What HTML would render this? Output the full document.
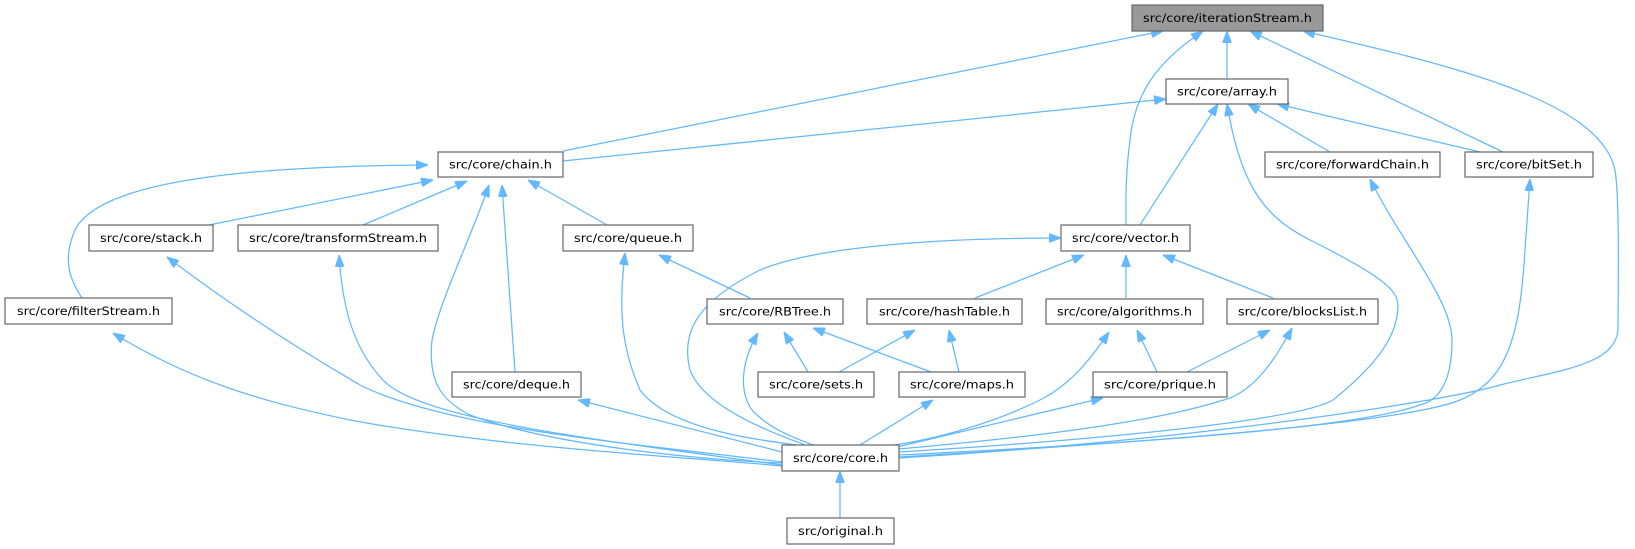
<!DOCTYPE html>
<html><head><meta charset="utf-8"><style>
html,body{margin:0;padding:0;background:#fff;}
svg{display:block;}
text{font-family:"DejaVu Sans","Liberation Sans",sans-serif;font-size:11.5px;fill:#000;}
.n{fill:#fff;stroke:#666;stroke-width:1.2;}
.e{fill:none;stroke:#63b8ff;stroke-width:1.25;marker-start:url(#ah);}
</style></head><body>
<svg width="1635" height="549" viewBox="0 0 1635 549" xmlns="http://www.w3.org/2000/svg">
<defs>
<marker id="ah" viewBox="0 0 12 9" refX="12" refY="4.5" markerWidth="12" markerHeight="9" markerUnits="userSpaceOnUse" orient="auto-start-reverse">
<path d="M0,0 L12,4.5 L0,9 z" fill="#63b8ff" stroke="#63b8ff"/>
</marker>
</defs>
<path class="e" d="M1163,31 L563,151"/>
<path class="e" d="M1203,31 C1160,60 1135,90 1130,140 C1125,180 1126,200 1126,225"/>
<path class="e" d="M1227,31 L1227,79"/>
<path class="e" d="M1250,31 L1503,152"/>
<path class="e" d="M1303,31 C1450,65 1600,100 1615,170 C1620,200 1618,300 1618,330 C1615,365 1560,370 1500,385 C1450,400 1200,440 899,458"/>
<path class="e" d="M1166,99 L563,161"/>
<path class="e" d="M1218,104 L1140,225"/>
<path class="e" d="M1227,104 C1240,180 1260,215 1310,240 C1380,275 1398,290 1398,305 C1398,340 1370,370 1333,400 C1300,420 1100,440 899,452"/>
<path class="e" d="M1248,104 L1330,152"/>
<path class="e" d="M1277,104 L1480,152"/>
<path class="e" d="M1370,179 C1400,240 1452,300 1452,340 C1452,380 1440,400 1420,405 C1350,430 1100,445 899,455"/>
<path class="e" d="M1530,179 L1525,250 C1520,330 1510,380 1460,400 C1400,425 1100,445 899,457"/>
<path class="e" d="M433,180 L209,225"/>
<path class="e" d="M467,181 L363,225"/>
<path class="e" d="M489,185 C470,240 440,300 432,340 C428,380 440,400 470,415 C550,445 700,460 782,463"/>
<path class="e" d="M502,185 L515,372"/>
<path class="e" d="M528,180 L607,225"/>
<path class="e" d="M428,165 C250,166 100,180 75,230 C62,260 70,280 82,298"/>
<path class="e" d="M113,333 C200,387 280,405 350,420 C500,448 700,458 782,466"/>
<path class="e" d="M167,257 C233,307 300,350 360,385 C450,430 650,445 782,462"/>
<path class="e" d="M339,255 C342,300 350,345 383,380 C420,420 600,440 782,465"/>
<path class="e" d="M578,400 L782,452"/>
<path class="e" d="M625,253 C620,300 618,340 640,390 C670,430 760,440 797,445"/>
<path class="e" d="M659,255 L750,298"/>
<path class="e" d="M1061,238 C950,238 820,245 760,270 C700,300 680,330 690,370 C705,410 780,435 805,445"/>
<path class="e" d="M1084,255 L975,298"/>
<path class="e" d="M1126,255 L1126,298"/>
<path class="e" d="M1163,255 L1273,298"/>
<path class="e" d="M758,333 C742,360 738,390 752,410 C770,430 800,440 813,445"/>
<path class="e" d="M784,332 L808,372"/>
<path class="e" d="M813,328 L931,372"/>
<path class="e" d="M915,330 L839,372"/>
<path class="e" d="M949,330 L959,372"/>
<path class="e" d="M1109,332 C1090,360 1070,385 1040,400 C990,425 930,440 894,445"/>
<path class="e" d="M1137,330 L1157,372"/>
<path class="e" d="M1270,330 L1187,372"/>
<path class="e" d="M1292,328 C1270,370 1250,390 1230,398 C1150,425 1000,440 899,449"/>
<path class="e" d="M933,400 L860,445"/>
<path class="e" d="M1103,398 L897,447"/>
<path class="e" d="M840,471 L840,518"/>

<rect x="1132" y="5" width="191" height="26" fill="#999" stroke="#666" stroke-width="1.2"/>
<text x="1227.5" y="22" text-anchor="middle" textLength="169" lengthAdjust="spacingAndGlyphs">src/core/iterationStream.h</text>
<rect class="n" x="1166" y="79" width="122" height="25"/>
<text x="1227" y="95.5" text-anchor="middle" textLength="100" lengthAdjust="spacingAndGlyphs">src/core/array.h</text>
<rect class="n" x="438" y="152" width="125" height="25"/>
<text x="500.5" y="168.5" text-anchor="middle" textLength="103" lengthAdjust="spacingAndGlyphs">src/core/chain.h</text>
<rect class="n" x="1265" y="152" width="175" height="25"/>
<text x="1352.5" y="168.5" text-anchor="middle" textLength="153" lengthAdjust="spacingAndGlyphs">src/core/forwardChain.h</text>
<rect class="n" x="1465" y="152" width="128" height="25"/>
<text x="1529" y="168.5" text-anchor="middle" textLength="106" lengthAdjust="spacingAndGlyphs">src/core/bitSet.h</text>
<rect class="n" x="89" y="225" width="124" height="26"/>
<text x="151" y="242" text-anchor="middle" textLength="102" lengthAdjust="spacingAndGlyphs">src/core/stack.h</text>
<rect class="n" x="238" y="225" width="200" height="26"/>
<text x="338" y="242" text-anchor="middle" textLength="178" lengthAdjust="spacingAndGlyphs">src/core/transformStream.h</text>
<rect class="n" x="563" y="225" width="130" height="26"/>
<text x="628" y="242" text-anchor="middle" textLength="108" lengthAdjust="spacingAndGlyphs">src/core/queue.h</text>
<rect class="n" x="1061" y="225" width="129" height="26"/>
<text x="1125.5" y="242" text-anchor="middle" textLength="107" lengthAdjust="spacingAndGlyphs">src/core/vector.h</text>
<rect class="n" x="5" y="298" width="167" height="26"/>
<text x="88.5" y="315" text-anchor="middle" textLength="143" lengthAdjust="spacingAndGlyphs">src/core/filterStream.h</text>
<rect class="n" x="707" y="299" width="136" height="25"/>
<text x="775" y="315.5" text-anchor="middle" textLength="112" lengthAdjust="spacingAndGlyphs">src/core/RBTree.h</text>
<rect class="n" x="867" y="299" width="155" height="25"/>
<text x="944.5" y="315.5" text-anchor="middle" textLength="131" lengthAdjust="spacingAndGlyphs">src/core/hashTable.h</text>
<rect class="n" x="1046" y="299" width="157" height="25"/>
<text x="1124.5" y="315.5" text-anchor="middle" textLength="135" lengthAdjust="spacingAndGlyphs">src/core/algorithms.h</text>
<rect class="n" x="1227" y="299" width="151" height="25"/>
<text x="1302.5" y="315.5" text-anchor="middle" textLength="129" lengthAdjust="spacingAndGlyphs">src/core/blocksList.h</text>
<rect class="n" x="452" y="372" width="129" height="25"/>
<text x="516.5" y="388.5" text-anchor="middle" textLength="107" lengthAdjust="spacingAndGlyphs">src/core/deque.h</text>
<rect class="n" x="758" y="372" width="116" height="25"/>
<text x="816" y="388.5" text-anchor="middle" textLength="94" lengthAdjust="spacingAndGlyphs">src/core/sets.h</text>
<rect class="n" x="899" y="372" width="126" height="25"/>
<text x="962" y="388.5" text-anchor="middle" textLength="104" lengthAdjust="spacingAndGlyphs">src/core/maps.h</text>
<rect class="n" x="1093" y="372" width="134" height="25"/>
<text x="1160" y="388.5" text-anchor="middle" textLength="112" lengthAdjust="spacingAndGlyphs">src/core/prique.h</text>
<rect class="n" x="782" y="445" width="117" height="26"/>
<text x="840.5" y="462" text-anchor="middle" textLength="95" lengthAdjust="spacingAndGlyphs">src/core/core.h</text>
<rect class="n" x="787" y="518" width="107" height="26"/>
<text x="840.5" y="535" text-anchor="middle" textLength="85" lengthAdjust="spacingAndGlyphs">src/original.h</text>
</svg>
</body></html>
